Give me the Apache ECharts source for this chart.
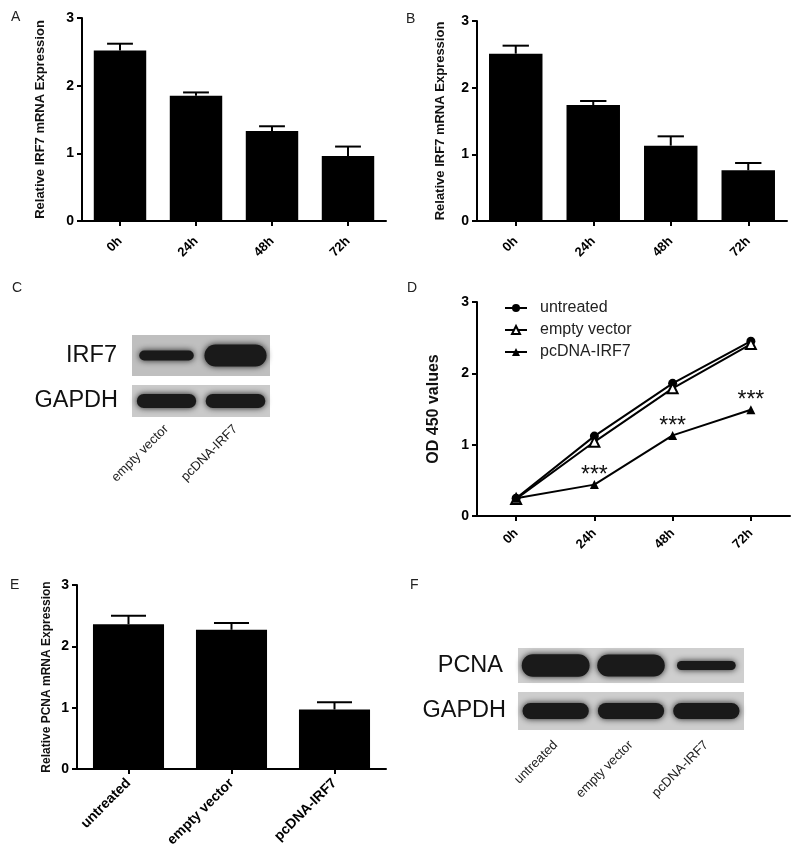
<!DOCTYPE html>
<html><head><meta charset="utf-8">
<script src="https://cdn.jsdelivr.net/npm/echarts@6/dist/echarts.min.js"></script>
<style>html,body{margin:0;padding:0;background:#fff}#c{width:800px;height:855px}</style>
</head><body><div id="c"></div>
<script>
// ---------- data ----------
const timeCats = ['0h', '24h', '48h', '72h'];
const aMean = [2.52, 1.85, 1.33, 0.96];
const aSem = [0.10, 0.05, 0.07, 0.14];
const bMean = [2.51, 1.74, 1.13, 0.76];
const bSem = [0.12, 0.06, 0.14, 0.11];
const groupCats = ['untreated', 'empty vector', 'pcDNA-IRF7'];
const dUntreated = [0.25, 1.12, 1.86, 2.45];
const dEmpty = [0.24, 1.04, 1.79, 2.41];
const dIRF7 = [0.25, 0.44, 1.13, 1.49];
const dSig = ['', '***', '***', '***'];
const eMean = [2.36, 2.27, 0.97];
const eSem = [0.14, 0.11, 0.12];
const blotCLanes = ['empty vector', 'pcDNA-IRF7'];
const blotCIRF7 = [0.45, 1.0];      // relative band intensity
const blotCGAPDH = [0.8, 0.82];
const blotFLanes = ['untreated', 'empty vector', 'pcDNA-IRF7'];
const blotFPCNA = [1.0, 0.98, 0.4];
const blotFGAPDH = [0.9, 0.9, 0.9];

// ---------- helpers ----------
const FONT = '"Liberation Sans", Arial, sans-serif';
function valueAxis(gi, name, nameGap, nameSize) {
  return {type: 'value', gridIndex: gi, min: 0, max: 3, interval: 1,
    axisLine: {show: true, lineStyle: {color: '#000', width: 2}},
    axisTick: {show: true, length: 5, lineStyle: {color: '#000', width: 2}},
    splitLine: {show: false},
    axisLabel: {color: '#000', fontSize: 14, fontWeight: 'bold', fontFamily: FONT, margin: 8},
    name: name, nameLocation: 'middle', nameGap: nameGap,
    nameTextStyle: {color: '#111', fontSize: nameSize, fontWeight: 'bold', fontFamily: FONT}};
}
function catAxis(gi, data, fontSize, margin) {
  return {type: 'category', gridIndex: gi, data: data, boundaryGap: true,
    axisLine: {show: true, onZero: false, lineStyle: {color: '#000', width: 2}},
    axisTick: {show: true, alignWithLabel: true, length: 5, lineStyle: {color: '#000', width: 2}},
    axisLabel: {rotate: 45, interval: 0, color: '#000', fontSize: fontSize, fontWeight: 'bold', fontFamily: FONT, margin: margin}};
}
function barSeries(gi, vals) {
  return {type: 'bar', xAxisIndex: gi, yAxisIndex: gi, data: vals, barWidth: '69%',
    itemStyle: {color: '#000'}, silent: true};
}
function errSeries(gi, means, sems) {
  return {type: 'custom', xAxisIndex: gi, yAxisIndex: gi, z: 3, silent: true,
    data: means.map((m, i) => [i, m, m + sems[i]]),
    renderItem(params, api) {
      const x = api.value(0);
      const p0 = api.coord([x, api.value(1)]);
      const p1 = api.coord([x, api.value(2)]);
      const cw = api.size([1, 0])[0] * 0.34;
      const st = {stroke: '#000', lineWidth: 2};
      return {type: 'group', children: [
        {type: 'line', shape: {x1: p0[0], y1: p0[1], x2: p1[0], y2: p1[1]}, style: st},
        {type: 'line', shape: {x1: p1[0] - cw / 2, y1: p1[1], x2: p1[0] + cw / 2, y2: p1[1]}, style: st}
      ]};
    }};
}
function blotXAxis(gi, lanes, showLabels, margin) {
  return {type: 'category', gridIndex: gi, data: lanes, boundaryGap: true,
    axisLine: {show: false}, axisTick: {show: false},
    axisLabel: {show: showLabels, rotate: 45, interval: 0, color: '#222', fontSize: 13, fontFamily: FONT, margin: margin || 8}};
}
function blotYAxis(gi, name, margin) {
  return {type: 'category', gridIndex: gi, data: [name],
    axisLine: {show: false}, axisTick: {show: false}, splitLine: {show: false},
    axisLabel: {color: '#111', fontSize: 23.5, fontFamily: FONT, margin: margin}};
}
function bandSeries(gi, vals, hScale) {
  return {type: 'custom', xAxisIndex: gi, yAxisIndex: gi, silent: true,
    data: vals.map((v, i) => [i, 0, v]),
    renderItem(params, api) {
      const c = api.coord([api.value(0), 0]);
      const cw = api.size([1, 0])[0];
      const gh = params.coordSys.height;
      const v = api.value(2);
      const h = gh * hScale * v, w = cw * (0.7 + 0.2 * v);
      return {type: 'rect', shape: {x: c[0] - w / 2, y: c[1] - h / 2, width: w, height: h, r: h / 2},
          style: {fill: '#1a1a1a', shadowBlur: 6, shadowColor: 'rgba(10,10,10,0.9)'}};
    }};
}
function letter(t, x, y) {
  return {type: 'text', left: x, top: y, style: {text: t, fontSize: 14, fill: '#222', fontFamily: FONT}};
}

const chart = echarts.init(document.getElementById('c'));
chart.setOption({
  animation: false,
  backgroundColor: '#fff',
  graphic: [letter('A', 11, 10), letter('B', 406, 12), letter('C', 12, 281), letter('D', 407, 281), letter('E', 10, 578), letter('F', 410, 578)],
  legend: {data: ['untreated', 'empty vector', 'pcDNA-IRF7'], orient: 'vertical', left: 499, top: 295,
    itemWidth: 22, itemHeight: 10, itemGap: 6,
    textStyle: {fontSize: 16, color: '#222', fontFamily: FONT, padding: [0, 0, 0, 8]}},
  grid: [
    {left: 82, top: 18, width: 304, height: 203},          // A
    {left: 477, top: 21, width: 310, height: 200},         // B
    {left: 477, top: 302, width: 313, height: 214},        // D
    {left: 77, top: 585, width: 309, height: 184},         // E
    {left: 132, top: 335, width: 138, height: 41, show: true, backgroundColor: '#bfbfbf', borderWidth: 0},  // C IRF7
    {left: 132, top: 385, width: 138, height: 32, show: true, backgroundColor: '#cacaca', borderWidth: 0},  // C GAPDH
    {left: 518, top: 648, width: 226, height: 35, show: true, backgroundColor: '#cfcfcf', borderWidth: 0},  // F PCNA
    {left: 518, top: 692, width: 226, height: 38, show: true, backgroundColor: '#cdcdcd', borderWidth: 0}   // F GAPDH
  ],
  xAxis: [
    catAxis(0, timeCats, 13, 18),
    catAxis(1, timeCats, 13, 18),
    catAxis(2, timeCats, 13, 15),
    catAxis(3, groupCats, 14, 12),
    blotXAxis(4, blotCLanes, false),
    blotXAxis(5, blotCLanes, true, 10),
    blotXAxis(6, blotFLanes, false),
    blotXAxis(7, blotFLanes, true, 13)
  ],
  yAxis: [
    valueAxis(0, 'Relative IRF7 mRNA Expression', 35, 13),
    valueAxis(1, 'Relative IRF7 mRNA Expression', 30, 13),
    valueAxis(2, 'OD 450 values', 35, 16),
    valueAxis(3, 'Relative PCNA mRNA Expression', 24, 12),
    blotYAxis(4, 'IRF7', 15),
    blotYAxis(5, 'GAPDH', 14),
    blotYAxis(6, 'PCNA', 15),
    blotYAxis(7, 'GAPDH', 12)
  ],
  series: [
    barSeries(0, aMean), errSeries(0, aMean, aSem),
    barSeries(1, bMean), errSeries(1, bMean, bSem),
    barSeries(3, eMean), errSeries(3, eMean, eSem),
    {type: 'line', name: 'untreated', xAxisIndex: 2, yAxisIndex: 2, data: dUntreated,
      symbol: 'circle', symbolSize: 9, lineStyle: {color: '#000', width: 2}, itemStyle: {color: '#000'}},
    {type: 'line', name: 'empty vector', xAxisIndex: 2, yAxisIndex: 2, data: dEmpty,
      symbol: 'triangle', symbolSize: 10, lineStyle: {color: '#000', width: 2},
      itemStyle: {color: '#fff', borderColor: '#000', borderWidth: 2}},
    {type: 'line', name: 'pcDNA-IRF7', xAxisIndex: 2, yAxisIndex: 2, data: dIRF7,
      symbol: 'triangle', symbolSize: 9, lineStyle: {color: '#000', width: 2}, itemStyle: {color: '#000'},
      label: {show: true, position: 'top', distance: 0, offset: [0, 7], formatter: p => dSig[p.dataIndex],
        fontSize: 23, color: '#111', fontFamily: FONT}},
    bandSeries(4, blotCIRF7, 0.54),
    bandSeries(5, blotCGAPDH, 0.54),
    bandSeries(6, blotFPCNA, 0.64),
    bandSeries(7, blotFGAPDH, 0.47)
  ]
});
</script></body></html>
